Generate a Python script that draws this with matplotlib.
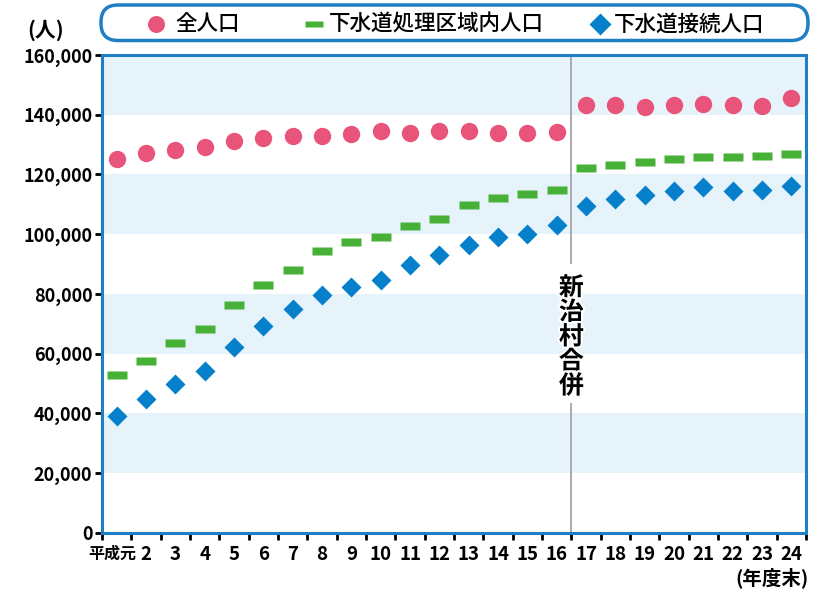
import matplotlib
matplotlib.use('Agg')
import matplotlib.pyplot as plt
import matplotlib.patheffects as pe
from matplotlib.path import Path
from matplotlib.patches import FancyBboxPatch
from matplotlib.lines import Line2D
from matplotlib.transforms import ScaledTranslation
from matplotlib.ticker import FuncFormatter, MultipleLocator

plt.rcParams['font.family'] = ['Liberation Sans Narrow', 'Noto Sans CJK JP', 'DejaVu Sans']

years = ['平成元'] + [str(i) for i in range(2, 25)]
total_pop = [125100, 127100, 128200, 129100, 131200, 132200, 133000, 133000,
             133600, 134600, 134000, 134600, 134600, 134000, 133800, 134200,
             143300, 143200, 142500, 143300, 143500, 143300, 143000, 145700]
sewer_area_pop = [52900, 57600, 63600, 68300, 76300, 83000, 88000, 94400,
                  97400, 99100, 102900, 105100, 109900, 112200, 113600, 114900,
                  122200, 123200, 124200, 125300, 126000, 126000, 126300, 127000]
connected_pop = [39300, 44900, 50000, 54300, 62400, 69300, 75000, 79700,
                 82400, 84700, 89700, 93100, 96400, 99000, 100200, 103200,
                 109600, 111900, 113000, 114500, 115900, 114600, 114800, 116100]
merge_after = 16  # 新治村合併 between 16 and 17

pink = '#e9557a'
green = '#46b037'
blue = '#0780cb'
frame = '#1f7fc4'
cjk = ['Noto Sans CJK JP']

dash = Path([(-1, -0.38), (1, -0.38), (1, 0.38), (-1, 0.38), (-1, -0.38)],
            [Path.MOVETO, Path.LINETO, Path.LINETO, Path.LINETO, Path.CLOSEPOLY])

fig = plt.figure(figsize=(8.3, 5.92), dpi=100)
ax = fig.add_axes([0.1229, 0.0997, 0.8482, 0.8074])

x = [i + 0.5 for i in range(len(years))]

# background bands
for lo in range(20000, 160000, 40000):
    ax.axhspan(lo, lo + 20000, color='#e6f3fb', lw=0, zorder=0)

# merge line, broken where the label sits
ax.axvline(merge_after, ymin=0, ymax=0.27, color='#aaaaaa', lw=1.4, zorder=1)
ax.axvline(merge_after, ymin=0.565, ymax=1, color='#aaaaaa', lw=1.4, zorder=1)
ax.text(merge_after, 65500, '\n'.join('新治村合併'), ha='center', va='center',
        fontsize=18, family=cjk, fontweight='semibold', linespacing=1.03, zorder=2,
        path_effects=[pe.withStroke(linewidth=3, foreground='white')])

l1, = ax.plot(x, total_pop, 'o', color=pink, ms=12.5, mec='none', zorder=3)
l2, = ax.plot(x, sewer_area_pop, marker=dash, ls='none', color=green, ms=13.8, mec='none', zorder=3)
l3, = ax.plot(x, connected_pop, 'D', color=blue, ms=10.5, mec='none', zorder=3)

ax.set_xlim(0, len(years))
ax.set_ylim(0, 160000)
ax.yaxis.set_major_locator(MultipleLocator(20000))
ax.yaxis.set_major_formatter(FuncFormatter(lambda v, p: f'{int(v):,}'))
ax.set_xticks(range(len(years) + 1))
ax.set_xticklabels([])
ax.set_xticks(x, minor=True)
ax.set_xticklabels(years, minor=True)
ax.tick_params(axis='x', which='major', length=5, width=2, direction='out', color='black')
ax.tick_params(axis='x', which='minor', length=0, pad=9, labelsize=13.5)
ax.tick_params(axis='y', length=5, width=2, color='black', labelsize=13, pad=2)
for lab in ax.get_xticklabels(minor=True) + ax.get_yticklabels():
    lab.set_fontweight('bold')
first = ax.get_xticklabels(minor=True)[0]
first.set_fontsize(11.5)
first.set_transform(first.get_transform() + ScaledTranslation(-0.04, 0, fig.dpi_scale_trans))

for s in ax.spines.values():
    s.set_color(frame)
    s.set_linewidth(2.2)

fig.text(0.27, 5.62, '(人)', fontsize=15, fontweight='bold', ha='left', va='center',
         family=cjk, transform=fig.dpi_scale_trans)
fig.text(8.09, 0.14, '(年度末)', fontsize=14, fontweight='bold', ha='right', va='center',
         family=cjk, transform=fig.dpi_scale_trans)

# legend box
box = FancyBboxPatch((1.01, 5.515), 7.07, 0.355, boxstyle='round,pad=0,rounding_size=0.17',
                     transform=fig.dpi_scale_trans, facecolor='white', edgecolor=frame, lw=2.5)
fig.patches.append(box)
ly = 5.677
items = [(l1, 1.557, 1.75, '全人口', 12.2),
         (l2, 3.14, 3.29, '下水道処理区域内人口', 13.2),
         (l3, 6.00, 6.135, '下水道接続人口', 11.5)]
for h, mx, tx, label, ms in items:
    fig.add_artist(Line2D([mx], [ly], marker=h.get_marker(), ms=ms, color=h.get_color(),
                          mec='none', ls='none', transform=fig.dpi_scale_trans))
    fig.text(tx, ly, label, fontsize=15.5, fontweight='medium', va='center', ha='left',
             family=cjk, transform=fig.dpi_scale_trans)

fig.savefig('out.png', dpi=100)
